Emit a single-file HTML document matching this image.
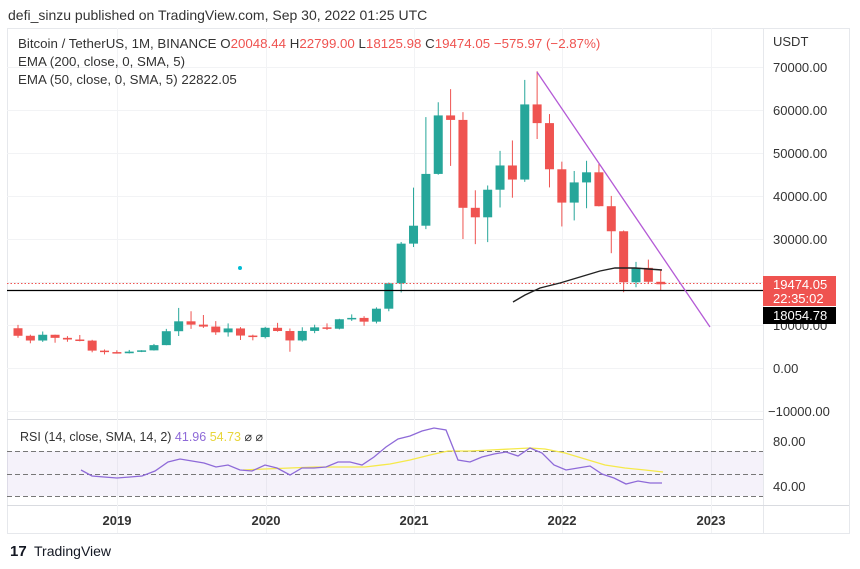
<!DOCTYPE html>
<html><head><meta charset="utf-8"><style>
body{margin:0;background:#fff;width:860px;height:569px;overflow:hidden;font-family:"Liberation Sans",sans-serif}
svg{position:absolute;left:0;top:0}
text{font-family:"Liberation Sans",sans-serif}
</style></head><body>
<svg id="s" width="860" height="569" viewBox="0 0 860 569" xmlns="http://www.w3.org/2000/svg">
<text x="8" y="20" font-size="14" fill="#333">defi_sinzu published on TradingView.com, Sep 30, 2022 01:25 UTC</text>
<rect x="7.5" y="28.5" width="842" height="505" fill="none" stroke="#e6e8ec"/>
<line x1="763.5" y1="28" x2="763.5" y2="533" stroke="#e6e8ec"/>
<line x1="7" y1="419.5" x2="763" y2="419.5" stroke="#d9dbe0"/>
<line x1="7" y1="505.5" x2="849" y2="505.5" stroke="#d9dbe0"/>
<g id="grid" stroke="#f2f3f5"></g>
<rect x="7" y="451" width="756" height="45" fill="#7e57c2" fill-opacity="0.08"/>
<g stroke="#777" stroke-dasharray="5,3">
<line x1="7" y1="451.5" x2="763" y2="451.5"/><line x1="7" y1="474.5" x2="763" y2="474.5"/><line x1="7" y1="496.5" x2="763" y2="496.5"/></g>
<g id="c"></g>
<line x1="7" y1="290.5" x2="763" y2="290.5" stroke="#000" stroke-width="1.3"/>
<line x1="7" y1="283.5" x2="763" y2="283.5" stroke="#ef5350" stroke-dasharray="1.5,2"/>
<polyline points="513,302 525,295 540,288 560,283 580,277 600,271 615,268 635,268 662,270" fill="none" stroke="#222" stroke-width="1.4"/>
<line x1="537" y1="72" x2="710" y2="327" stroke="#b45ad6" stroke-width="1.3"/>
<circle cx="240" cy="268" r="2" fill="#00bcd4"/>
<polyline fill="none" stroke="#f5e94a" stroke-width="1.3" points="243,470 265,469 290,468 315,467 340,467 365,467 390,464 410,460 430,455 448,451 470,451 490,450 510,449 530,448 545,449 565,453 585,459 605,465 625,468 645,470 663,472"/>
<polyline fill="none" stroke="#8e6ad8" stroke-width="1.3" points="81,470 92,476 104,477 117,478 130,477 142,476 155,471 168,462 180,459 192,461 204,463 216,467 228,465 240,470 252,471 265,465 277,468 290,475 302,468 314,468 326,467 338,462 350,462 362,465 374,457 386,447 398,439 410,436 422,431 434,428 446,430 458,460 470,462 482,457 494,454 506,452 518,456 530,448 542,453 554,465 566,470 578,468 590,466 602,474 614,478 626,484 638,481 650,483 662,483"/>
<text x="20" y="441" font-size="12.5" fill="#333">RSI (14, close, SMA, 14, 2) <tspan fill="#8e6ad8">41.96</tspan> <tspan fill="#e8d53a">54.73</tspan> ⌀ ⌀</text>
<g font-size="13" fill="#333">
<text x="773" y="46">USDT</text>
<text x="773" y="72">70000.00</text><text x="773" y="115">60000.00</text><text x="773" y="158">50000.00</text>
<text x="773" y="201">40000.00</text><text x="773" y="244">30000.00</text><text x="773" y="330">10000.00</text>
<text x="773" y="373">0.00</text><text x="768" y="416">−10000.00</text>
<text x="773" y="446">80.00</text><text x="773" y="491">40.00</text></g>
<rect x="763" y="276" width="73" height="30" fill="#ef5350"/>
<text x="773" y="289" font-size="13" fill="#fff">19474.05</text>
<text x="773" y="303" font-size="13" fill="#fff">22:35:02</text>
<rect x="763" y="307" width="73" height="17" fill="#000"/>
<text x="773" y="320" font-size="13" fill="#fff">18054.78</text>
<g font-size="13" font-weight="bold" fill="#333" text-anchor="middle">
<text x="117" y="525">2019</text><text x="266" y="525">2020</text><text x="414" y="525">2021</text><text x="562" y="525">2022</text><text x="711" y="525">2023</text></g>
<text x="18" y="48" font-size="13.3" fill="#333">Bitcoin / TetherUS, 1M, BINANCE  O<tspan fill="#ef5350">20048.44</tspan>  H<tspan fill="#ef5350">22799.00</tspan>  L<tspan fill="#ef5350">18125.98</tspan>  C<tspan fill="#ef5350">19474.05</tspan>  <tspan fill="#ef5350">−575.97 (−2.87%)</tspan></text>
<text x="18" y="66" font-size="13.3" fill="#333">EMA (200, close, 0, SMA, 5)</text>
<text x="18" y="84" font-size="13.3" fill="#333">EMA (50, close, 0, SMA, 5)  22822.05</text>
<text x="10" y="556" font-size="15" font-weight="bold" fill="#131722">17</text>
<text x="34" y="556" font-size="14" fill="#131722">TradingView</text>
</svg>
<script>
var d=[[9245,10020,7032,7494],[7494,7754,5750,6391],[6391,8488,6070,7730],[7730,7750,5880,7011],[7011,7410,6100,6626],[6626,7680,6200,6371],[6371,6555,3652,4041],[4041,4310,3156,3702],[3702,4110,3350,3434],[3434,4200,3380,3813],[3813,4140,3700,4103],[4103,5600,4050,5321],[5321,9100,5300,8555],[8555,13970,7440,10855],[10855,13200,9100,10085],[10085,12325,9320,9630],[9630,10905,7710,8293],[8293,10370,7300,9199],[9199,9510,6515,7546],[7546,7750,6435,7193],[7193,9580,6870,9350],[9350,10500,8450,8600],[8600,9190,3782,6410],[6410,9470,6150,8620],[8620,10070,8100,9450],[9450,10380,8830,9135],[9135,11444,8980,11335],[11335,12470,10950,11650],[11650,12050,9825,10776],[10776,14100,10370,13791],[13791,19863,13200,19695],[19695,29300,17570,28923],[28923,41950,28130,33092],[33092,58350,32296,45135],[45135,61800,44950,58740],[58740,64854,47000,57694],[57694,59500,30000,37253],[37253,41330,28805,35045],[35045,42448,29278,41461],[41461,50500,37332,47100],[47100,52920,39600,43824],[43824,67000,43283,61299],[61299,69000,53256,56950],[56950,59053,42000,46216],[46216,47990,32917,38466],[38466,45821,34322,43160],[43160,48189,37155,45510],[45510,47444,37578,37630],[37630,40023,26700,31801],[31801,31986,17622,19942],[19942,24668,18781,23293],[23293,25211,19520,20050],[20048,22799,18125,19474]];
var ns="http://www.w3.org/2000/svg",g=document.getElementById('c'),gr=document.getElementById('grid');
function Y(p){return 368-p*0.0043}
function el(p,t,a){var e=document.createElementNS(ns,t);for(var k in a)e.setAttribute(k,a[k]);p.appendChild(e);}
[67,110,153,196,239,282,325,368,411].forEach(function(y){el(gr,'line',{x1:7,x2:763,y1:y+.5,y2:y+.5});});
[117,266,414,562,711].forEach(function(x){el(gr,'line',{x1:x+.5,x2:x+.5,y1:28,y2:533});});
d.forEach(function(c,i){var x=18+i*12.36,col=c[3]>=c[0]?'#26a69a':'#ef5350';
el(g,'line',{x1:x,x2:x,y1:Y(c[1]),y2:Y(c[2]),stroke:col,'stroke-width':1});
var t=Y(Math.max(c[0],c[3])),b=Y(Math.min(c[0],c[3]));
el(g,'rect',{x:x-4.5,y:t,width:9,height:Math.max(1.5,b-t),fill:col});});
</script>
</body></html>
